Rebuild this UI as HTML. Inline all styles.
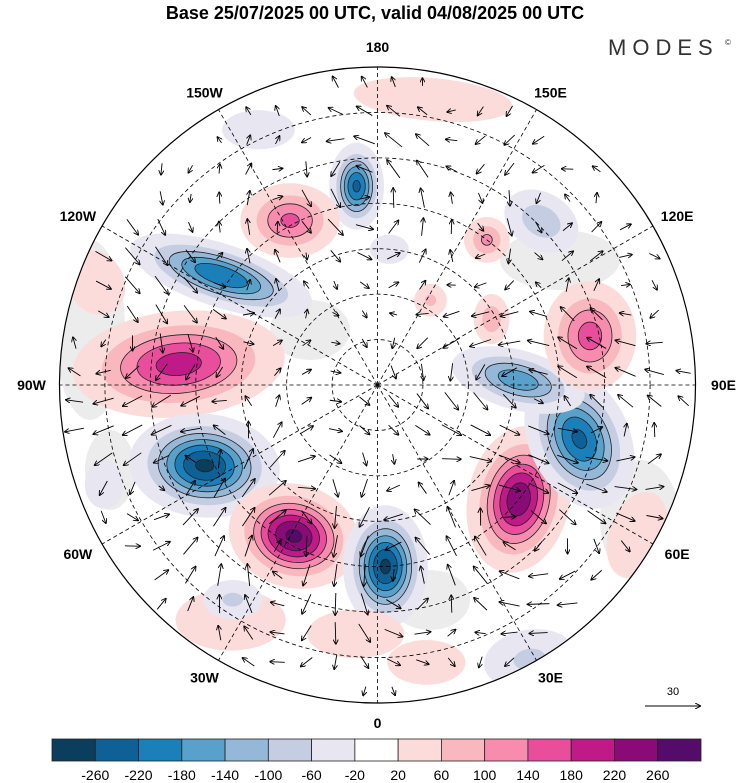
<!DOCTYPE html>
<html><head><meta charset="utf-8"><style>
body{margin:0;background:#fff;width:750px;height:783px;overflow:hidden;font-family:"Liberation Sans",sans-serif}
svg{position:absolute;left:0;top:0}
</style></head><body>
<svg id="map" width="750" height="783" viewBox="0 0 750 783">
<defs><clipPath id="disc"><circle cx="377.5" cy="385" r="318"/></clipPath>
<marker id="ah" markerWidth="6" markerHeight="6" refX="5" refY="3" orient="auto"><path d="M0,0 L6,3 L0,6" fill="none" stroke="#000" stroke-width="1"/></marker></defs>
<text x="375" y="19" text-anchor="middle" font-size="18" font-weight="bold">Base 25/07/2025 00 UTC, valid 04/08/2025 00 UTC</text>
<text x="608" y="55" font-size="22" letter-spacing="6" fill="#333">MODES</text>
<text x="725" y="45" font-size="8" fill="#333">©</text>
<g id="disc-g" clip-path="url(#disc)"><rect x="0" y="0" width="750" height="783" fill="#fff"/>
<g fill="#ececec">
<ellipse cx="90" cy="330" rx="35" ry="90"/><ellipse cx="640" cy="520" rx="40" ry="60"/><ellipse cx="560" cy="260" rx="60" ry="30"/><ellipse cx="310" cy="330" rx="40" ry="30"/><ellipse cx="430" cy="600" rx="40" ry="30"/><ellipse cx="110" cy="470" rx="25" ry="40"/>
</g></g>
<circle cx="377.5" cy="385" r="318" fill="none" stroke="#000" stroke-width="1.2"/>
<g id="grid"></g>
<g id="arrows"></g>
<g id="lonlabels" font-size="14" font-weight="bold" text-anchor="middle"></g>
<text x="673" y="695" font-size="11" text-anchor="middle">30</text>
<line x1="645" y1="706" x2="700" y2="706" stroke="#000" marker-end="url(#ah)"/>
<g id="cbar"></g>
</svg>
<script>
const levels=[-260,-220,-180,-140,-100,-60,-20,20,60,100,140,180,220,260];
const colors=["#0b3d5c","#0e6196","#1b7fba","#58a1cb","#95b8d9","#c5cde2","#e8e6f1","#ffffff","#fcdcdb","#f9b8be","#f78cae","#e84e9c","#bf1a87","#8a0b78","#540b6a"];
// anomaly centres: longitude (deg E), colatitude (deg), amplitude, half-widths (deg, screen x/y), screen rotation
const blobLon=[-32,-34,169,29,-155,60,-110,10,-70,-174,-152,-125,-96,-65,-29,2.5,51,75,92,103,135,143,120,148,-5,175];
const blobColat=[61,57,64,69,62,66,66,62,64,44,41,42,44,42,38,40,40,46,31,48,51,40,29,22,55,30];
const blobAmp=[60,-70,60,-70,-50,50,50,50,-40,-230,150,-220,200,-270,270,-270,250,-230,-170,160,-90,110,90,70,40,-40];
const blobSa=[18,9,26,14,13,10,10,14,8,6,12,21,24,16,14,9,11,11,16,11,11,6,5,5,20,8];
const blobSb=[10,6,7,9,7,16,12,8,10,9.5,9,7,12,11,11,13,16,16,7,13,8,6,7,5,10,6];
const blobRot=[0,0,5,-10,0,20,-30,0,0,0,0,18,-5,5,15,0,12,-25,15,0,30,0,0,0,0,0];
const lonLabels=["0","30E","60E","90E","120E","150E","180","150W","120W","90W","60W","30W"];
const cbarLabels=levels.map(String);
const NS="http://www.w3.org/2000/svg",cx=377.5,cy=385,R=318,pxd=R/70;
function proj(lon,col){const a=lon*Math.PI/180;return [cx+col*pxd*Math.sin(a),cy+col*pxd*Math.cos(a)];}
function mk(t,at,p){const e=document.createElementNS(NS,t);for(const k in at)e.setAttribute(k,at[k]);p.appendChild(e);return e;}
function colorFor(v){let i=0;while(i<levels.length&&v>levels[i])i++;return colors[i];}
const disc=document.getElementById('disc-g');
blobLon.forEach((lon,i)=>{
  const [x,y]=proj(lon,blobColat[i]);const A=blobAmp[i];
  const g=mk('g',{},disc);
  
  
  const th=levels.filter(l=>A>0?(l>0&&l<A):(l<0&&l>A)).sort((a,b)=>Math.abs(a)-Math.abs(b));
  const rot=blobRot[i];
  th.forEach((l)=>{const f=Math.sqrt(2*Math.log(A/l));
    const e=mk('ellipse',{cx:x,cy:y,rx:blobSa[i]*pxd*f/2.2,ry:blobSb[i]*pxd*f/2.2,fill:colorFor(A>0?l+1:l-1),transform:`rotate(${rot} ${x} ${y})`},g);
    if(Math.abs(l)>=100){e.setAttribute('stroke','#222');e.setAttribute('stroke-width','0.8');}
  });
});
const cap=mk('circle',{cx:cx,cy:cy,r:9*pxd,fill:'#fff'},disc);

const grid=document.getElementById('grid');
for(let c=10;c<70;c+=10){const e=mk('circle',{cx,cy,r:c*pxd,fill:'none',stroke:'#000','stroke-width':0.8,'stroke-dasharray':'4 3'},grid);
  }
for(let lon=0;lon<360;lon+=30){const [x,y]=proj(lon,70);const e=mk('line',{x1:cx,y1:cy,x2:x,y2:y,stroke:'#000','stroke-width':0.8,'stroke-dasharray':'4 3'},grid);
  }
const ll=document.getElementById('lonlabels');
lonLabels.forEach((t,i)=>{const lon=i*30;let [x,y]=proj(lon,70);const a=lon*Math.PI/180;
  x+=Math.sin(a)*28;y+=Math.cos(a)*20+5;
  const e=mk('text',{x,y},ll);e.textContent=t;
  });
const ar=document.getElementById('arrows');
for(let gy=cy-R+15;gy<cy+R;gy+=29)for(let gx=cx-R+15;gx<cx+R;gx+=29){
  const d=Math.hypot(gx-cx,gy-cy);if(d>R-10||d<20)continue;
  let u=0,v=0;
  blobLon.forEach((lon,i)=>{const [x,y]=proj(lon,blobColat[i]);const dx=gx-x,dy=gy-y;const s=(blobSa[i]+blobSb[i])/2*pxd;
    const w=blobAmp[i]/100*Math.exp(-(dx*dx+dy*dy)/(2*s*s*1.6));u+=-dy/s*w;v+=dx/s*w;});
  const m=Math.hypot(u,v);if(m<0.05)continue;const L=Math.min(22,6+m*10);
  const e=mk('line',{x1:gx-u/m*L/2,y1:gy-v/m*L/2,x2:gx+u/m*L/2,y2:gy+v/m*L/2,stroke:'#000','stroke-width':0.9,'marker-end':'url(#ah)'},ar);
  
}
const cb=document.getElementById('cbar');const x0=52,bw=(701-52)/colors.length;
colors.forEach((c,i)=>{const e=mk('rect',{x:x0+i*bw,y:739,width:bw,height:22,fill:c,stroke:'#222','stroke-width':0.8},cb);
  });
cbarLabels.forEach((t,i)=>{const e=mk('text',{x:x0+(i+1)*bw,y:780,'font-size':14,'text-anchor':'middle'},cb);e.textContent=t;
  });
</script>
</body></html>
